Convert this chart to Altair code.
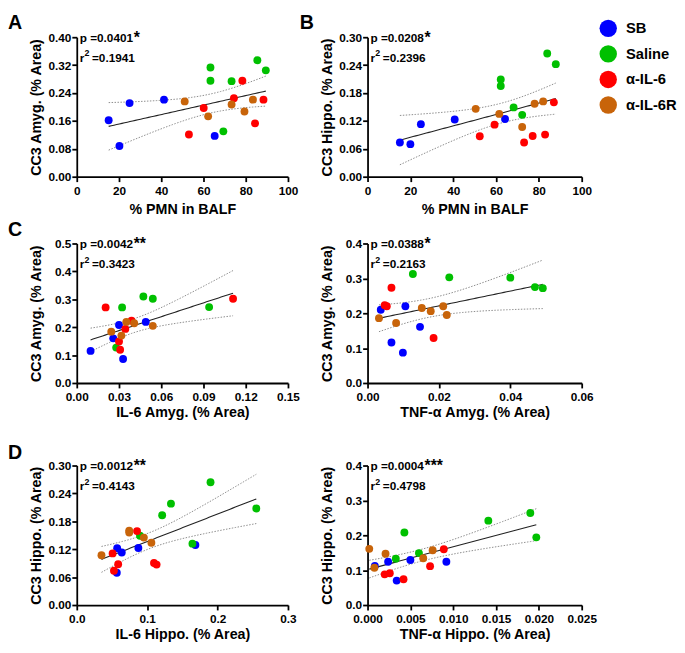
import altair as alt
import numpy as np
import pandas as pd

FONT = "Liberation Sans"
GROUPS = ["SB", "Saline", "α-IL-6", "α-IL-6R"]
COLORS = ["#0000ff", "#00c000", "#ff0000", "#c8640a"]

SB, SAL, IL6, IL6R = GROUPS

# ---------------- Panel A : % PMN in BALF  vs  CC3 Amyg.
A_X = [15.1, 20.2, 25.0, 41.3, 65.3,
       63.3, 63.3, 73.3, 69.4, 85.5, 89.5,
       53.1, 60.1, 74.4, 78.4, 88.4, 84.4,
       51.1, 62.2, 73.3, 79.4, 83.4]
A_Y = [0.162, 0.088, 0.211, 0.221, 0.117,
       0.313, 0.275, 0.274, 0.130, 0.334, 0.305,
       0.121, 0.197, 0.225, 0.275, 0.221, 0.153,
       0.216, 0.173, 0.207, 0.187, 0.221]
A_G = [SB] * 5 + [SAL] * 6 + [IL6] * 6 + [IL6R] * 5
A_XT = [0, 20, 40, 60, 80, 100]
A_YT = [0.0, 0.08, 0.16, 0.24, 0.32, 0.40]

# ---------------- Panel B : % PMN in BALF  vs  CC3 Hippo.
B_X = [15.1, 20.0, 24.9, 40.7, 64.2,
       62.2, 62.2, 68.2, 72.2, 83.9, 87.9,
       52.4, 59.3, 73.1, 77.1, 82.9, 87.0,
       50.5, 61.5, 72.2, 78.0, 82.0]
B_Y = [0.0735, 0.070, 0.113, 0.123, 0.124,
       0.209, 0.195, 0.149, 0.133, 0.265, 0.242,
       0.087, 0.112, 0.0735, 0.0875, 0.0905, 0.160,
       0.146, 0.135, 0.107, 0.157, 0.162]
B_G = [SB] * 5 + [SAL] * 6 + [IL6] * 6 + [IL6R] * 5
B_XT = [0, 20, 40, 60, 80, 100]
B_YT = [0.0, 0.06, 0.12, 0.18, 0.24, 0.30]

# ---------------- Panel C left : IL-6 Amyg.  vs  CC3 Amyg.
C1_X = [0.0098, 0.0300, 0.0259, 0.0329, 0.0490,
        0.0322, 0.0280, 0.0473, 0.0540, 0.0940,
        0.0205, 0.0300, 0.0308, 0.0345, 0.0389, 0.1110,
        0.0245, 0.0317, 0.0352, 0.0408, 0.0540]
C1_Y = [0.115, 0.208, 0.160, 0.086, 0.219,
        0.271, 0.127, 0.310, 0.302, 0.272,
        0.271, 0.149, 0.119, 0.194, 0.223, 0.302,
        0.184, 0.170, 0.219, 0.214, 0.205]
C1_G = [SB] * 5 + [SAL] * 5 + [IL6] * 6 + [IL6R] * 5
C1_XT = [0.0, 0.03, 0.06, 0.09, 0.12, 0.15]
C1_YT = [0.0, 0.1, 0.2, 0.3, 0.4, 0.5]

# ---------------- Panel C right : TNF-a Amyg.  vs  CC3 Amyg.
C2_X = [0.0037, 0.0106, 0.0147, 0.0067, 0.0099,
        0.0127, 0.0229, 0.0400, 0.0469, 0.0491,
        0.0067, 0.0048, 0.0054, 0.0185,
        0.0032, 0.0080, 0.0152, 0.0177, 0.0212, 0.0222]
C2_Y = [0.210, 0.220, 0.161, 0.116, 0.087,
        0.3125, 0.303, 0.302, 0.275, 0.272,
        0.273, 0.223, 0.220, 0.129,
        0.186, 0.172, 0.215, 0.206, 0.220, 0.195]
C2_G = [SB] * 5 + [SAL] * 5 + [IL6] * 4 + [IL6R] * 6
C2_XT = [0.0, 0.02, 0.04, 0.06]
C2_YT = [0.0, 0.1, 0.2, 0.3, 0.4]

# ---------------- Panel D left : IL-6 Hippo.  vs  CC3 Hippo.
D1_X = [0.0574, 0.0639, 0.0569, 0.0875, 0.1685,
        0.0898, 0.1213, 0.1338, 0.1643, 0.1900, 0.2550,
        0.0509, 0.0588, 0.0528, 0.0856, 0.1097, 0.1134,
        0.0351, 0.0745, 0.0745, 0.0953, 0.1060]
D1_Y = [0.122, 0.113, 0.0694, 0.1227, 0.129,
        0.149, 0.193, 0.218, 0.132, 0.264, 0.2075,
        0.111, 0.0876, 0.0736, 0.159, 0.0904, 0.0869,
        0.107, 0.160, 0.156, 0.145, 0.134]
D1_G = [SB] * 5 + [SAL] * 6 + [IL6] * 6 + [IL6R] * 5
D1_XT = [0.0, 0.1, 0.2, 0.3]
D1_YT = [0.0, 0.06, 0.12, 0.18, 0.24, 0.30]

# ---------------- Panel D right : TNF-a Hippo.  vs  CC3 Hippo.
D2_X = [0.00085, 0.0024, 0.0034, 0.0050, 0.0092,
        0.0033, 0.0043, 0.0060, 0.0141, 0.0190, 0.0197,
        0.0020, 0.0026, 0.0042, 0.0073, 0.0089,
        0.0002, 0.0008, 0.0021, 0.0065, 0.0076]
D2_Y = [0.112, 0.124, 0.070, 0.129, 0.124,
        0.133, 0.208, 0.149, 0.242, 0.264, 0.194,
        0.088, 0.091, 0.074, 0.1115, 0.160,
        0.161, 0.107, 0.147, 0.134, 0.157]
D2_G = [SB] * 5 + [SAL] * 6 + [IL6] * 5 + [IL6R] * 5
D2_XT = [0.0, 0.005, 0.010, 0.015, 0.020, 0.025]
D2_YT = [0.0, 0.1, 0.2, 0.3, 0.4]

# p value, significance stars, r squared value
STATS = {
    "A": ("p =0.0401", "*", "0.1941"),
    "B": ("p =0.0208", "*", "0.2396"),
    "C1": ("p =0.0042", "**", "0.3423"),
    "C2": ("p =0.0388", "*", "0.2163"),
    "D1": ("p =0.0012", "**", "0.4143"),
    "D2": ("p =0.0004", "***", "0.4798"),
}


def t975(df):
    z = 1.959963985
    g1 = (z**3 + z) / 4
    g2 = (5 * z**5 + 16 * z**3 + 3 * z) / 96
    g3 = (3 * z**7 + 19 * z**5 + 17 * z**3 - 15 * z) / 384
    return z + g1 / df + g2 / df**2 + g3 / df**3


def fit_frames(xs, ys):
    x = np.asarray(xs, float)
    y = np.asarray(ys, float)
    n = len(x)
    slope, icpt = np.polyfit(x, y, 1)
    grid = np.linspace(x.min(), x.max(), 60)
    yhat = icpt + slope * grid
    resid = y - (icpt + slope * x)
    s = np.sqrt(np.sum(resid**2) / (n - 2))
    sxx = np.sum((x - x.mean()) ** 2)
    hw = t975(n - 2) * s * np.sqrt(1.0 / n + (grid - x.mean()) ** 2 / sxx)
    fit = pd.DataFrame({"x": grid, "y": yhat})
    band = pd.DataFrame({
        "x": np.concatenate([grid, grid]),
        "y": np.concatenate([yhat + hw, yhat - hw]),
        "side": ["upper"] * len(grid) + ["lower"] * len(grid),
    })
    return fit, band


def panel(xs, ys, gs, xt, yt, xfmt, yfmt, xtitle, ytitle, key, letter,
          letter_dx, letter_dy, width, xtitle_pad, legend=None):
    pts = pd.DataFrame({"x": xs, "y": ys, "group": gs})
    fit, band = fit_frames(xs, ys)
    X = alt.X("x:Q",
              scale=alt.Scale(domain=[xt[0], xt[-1]], nice=False, zero=False),
              axis=alt.Axis(title=xtitle, values=xt, format=xfmt,
                            titlePadding=xtitle_pad, labelFlush=False,
                            labelOverlap=False))
    Y = alt.Y("y:Q",
              scale=alt.Scale(domain=[yt[0], yt[-1]], nice=False, zero=False),
              axis=alt.Axis(title=ytitle, values=yt, format=yfmt,
                            labelOverlap=False))
    color = alt.Color("group:N", scale=alt.Scale(domain=GROUPS, range=COLORS),
                      legend=legend)
    band_l = alt.Chart(band).mark_line(
        color="#8c8c8c", strokeWidth=1, strokeDash=[1.5, 1.5]
    ).encode(x=X, y=Y, detail="side:N")
    fit_l = alt.Chart(fit).mark_line(color="#222222", strokeWidth=1.1).encode(x=X, y=Y)
    dots = alt.Chart(pts).mark_circle(size=64, opacity=1).encode(x=X, y=Y, color=color)

    ptext, stars, rval = STATS[key]
    one = pd.DataFrame({"t": [0]})
    txt = dict(font=FONT, fontWeight="bold", color="black", align="left",
               baseline="alphabetic")
    layers = [
        alt.Chart(one).mark_text(text=ptext, fontSize=12, **txt).encode(
            x=alt.value(3), y=alt.value(5)),
        alt.Chart(one).mark_text(text=stars, fontSize=16, **txt).encode(
            x=alt.value(58), y=alt.value(6)),
        alt.Chart(one).mark_text(text="r", fontSize=12, **txt).encode(
            x=alt.value(3), y=alt.value(25)),
        alt.Chart(one).mark_text(text="2", fontSize=9, **txt).encode(
            x=alt.value(7.8), y=alt.value(19.5)),
        alt.Chart(one).mark_text(text="=" + rval, fontSize=12, **txt).encode(
            x=alt.value(15.5), y=alt.value(25)),
    ]
    lt = alt.Chart(one).mark_text(
        text=letter, fontSize=20, font=FONT, fontWeight="bold", color="black",
        align="left", baseline="top"
    ).encode(x=alt.value(letter_dx), y=alt.value(letter_dy))
    return alt.layer(band_l, fit_l, dots, *layers, lt).properties(
        width=width, height=142)


LEG = alt.Legend(orient="none", legendX=236, legendY=-18, title=None,
                 symbolType="circle", symbolSize=313, symbolOpacity=1,
                 symbolStrokeWidth=0, labelFont=FONT, labelFontSize=15,
                 labelFontWeight="bold", labelColor="black", labelOffset=9,
                 rowPadding=8, padding=0)

LW, RW = 215, 218

pA = panel(A_X, A_Y, A_G, A_XT, A_YT, "d", ".2f", "% PMN in BALF",
           "CC3 Amyg. (% Area)", "A", "A", -70, -24, LW, 6)
pB = panel(B_X, B_Y, B_G, B_XT, B_YT, "d", ".2f", "% PMN in BALF",
           "CC3 Hippo. (% Area)", "B", "B", -69, -24, RW, 6, legend=LEG)
pC1 = panel(C1_X, C1_Y, C1_G, C1_XT, C1_YT, ".2f", ".1f", "IL-6 Amyg. (% Area)",
            "CC3 Amyg. (% Area)", "C1", "C", -70, -24, LW, 3)
pC2 = panel(C2_X, C2_Y, C2_G, C2_XT, C2_YT, ".2f", ".1f", "TNF-α Amyg. (% Area)",
            "CC3 Amyg. (% Area)", "C2", "", -69, -24, RW, 3)
pD1 = panel(D1_X, D1_Y, D1_G, D1_XT, D1_YT, ".1f", ".2f", "IL-6 Hippo. (% Area)",
            "CC3 Hippo. (% Area)", "D1", "D", -70, -23, LW, 3)
pD2 = panel(D2_X, D2_Y, D2_G, D2_XT, D2_YT, ".3f", ".1f", "TNF-α Hippo. (% Area)",
            "CC3 Hippo. (% Area)", "D2", "", -69, -23, RW, 3)


def indep(c):
    return c.resolve_scale(x="independent", y="independent",
                           color="independent").resolve_legend(color="independent")


row1 = indep(alt.hconcat(pA, pB, spacing=81, bounds="flush"))
row2 = indep(alt.hconcat(pC1, pC2, spacing=81, bounds="flush"))
row3 = indep(alt.hconcat(pD1, pD2, spacing=81, bounds="flush"))
inner = indep(alt.vconcat(row2, row3, spacing=24))
chart = indep(alt.vconcat(row1, inner, spacing=4)).properties(padding=0)

chart = chart.configure_axis(
    domainColor="black", domainWidth=1.8, tickColor="black", tickWidth=1.8,
    tickSize=5, labelFont=FONT, labelFontSize=12, labelFontWeight="bold",
    labelColor="black", titleFont=FONT, titleFontSize=14.5,
    titleFontWeight="bold", titleColor="black", grid=False
).configure_axisY(
    labelPadding=1, titlePadding=3, minExtent=31, maxExtent=31
).configure_axisX(
    labelPadding=4
).configure_view(stroke=None)

chart.save("out.html", embed_options={"renderer": "svg", "actions": False})
